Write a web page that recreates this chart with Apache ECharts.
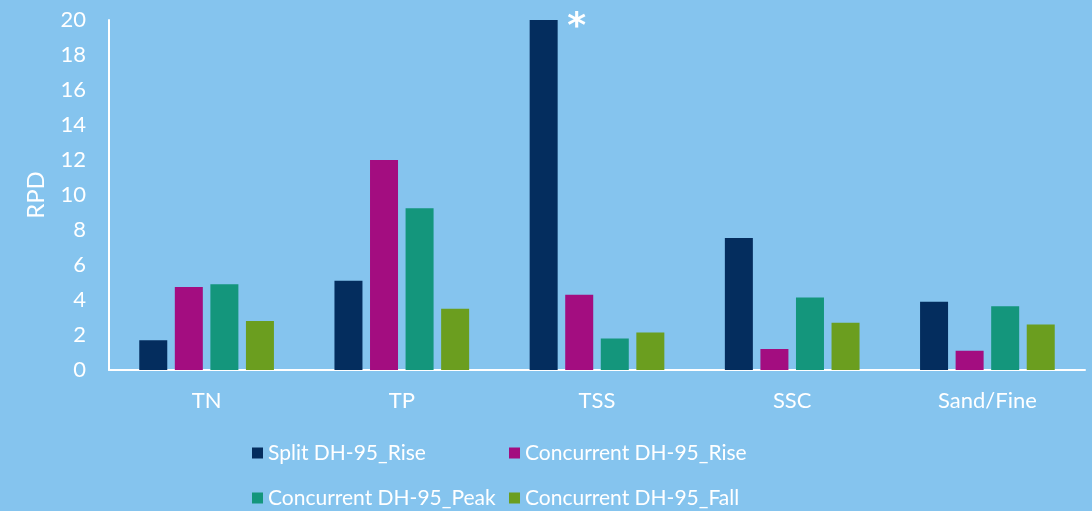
<!DOCTYPE html>
<html>
<head>
<meta charset="utf-8">
<script src="https://cdn.jsdelivr.net/npm/echarts@6/dist/echarts.min.js"></script>
<style>
  html, body { margin: 0; padding: 0; background: #85C4EE; }
  #chart { width: 1092px; height: 511px; }
</style>
</head>
<body>
<div id="chart"></div>
<script>
// Relative percent difference by constituent and sampling method
const categories = ['TN', 'TP', 'TSS', 'SSC', 'Sand/Fine'];
const yTicks = [0, 2, 4, 6, 8, 10, 12, 14, 16, 18, 20];

const splitRise      = [1.7, 5.1, 20.0, 7.55, 3.9];
const concurrentRise = [4.75, 12.0, 4.3, 1.2, 1.1];
const concurrentPeak = [4.9, 9.25, 1.8, 4.15, 3.65];
const concurrentFall = [2.8, 3.5, 2.15, 2.7, 2.6];

const seriesNames = [
  'Split DH-95_Rise',
  'Concurrent DH-95_Rise',
  'Concurrent DH-95_Peak',
  'Concurrent DH-95_Fall'
];
const colors = ['#042D5E', '#A30D80', '#14967C', '#6B9E1F'];

const FONT = 'Lato';
const FONT_SIZE = 22;

// TSS split sample is flagged with an asterisk
const flagged = splitRise.map(function (v, i) {
  if (categories[i] !== 'TSS') return v;
  return {
    value: v,
    label: {
      show: true,
      formatter: '*',
      position: [47, 8],
      align: 'center',
      verticalAlign: 'middle',
      color: '#FFFFFF',
      fontFamily: 'DejaVu Sans',
      fontWeight: 'bold',
      fontSize: 36
    }
  };
});

function bar(name, data, color) {
  return {
    name: name,
    type: 'bar',
    data: data,
    barWidth: 28,
    barGap: '27%',
    itemStyle: { color: color },
    emphasis: { disabled: true }
  };
}

// one legend per entry so the two columns line up
const legendSlots = [
  { left: 252, top: 441 },
  { left: 509, top: 441 },
  { left: 252, top: 486 },
  { left: 509, top: 486 }
];
const legends = seriesNames.map(function (name, i) {
  return {
    data: [name],
    left: legendSlots[i].left,
    top: legendSlots[i].top,
    padding: 0,
    itemWidth: 11,
    itemHeight: 11,
    itemGap: 0,
    icon: 'rect',
    selectedMode: false,
    textStyle: {
      color: '#FFFFFF',
      fontFamily: FONT,
      fontSize: 21,
      lineHeight: 24
    }
  };
});

const chart = echarts.init(document.getElementById('chart'), null, { renderer: 'canvas' });
chart.setOption({
  backgroundColor: '#85C4EE',
  animation: false,
  color: colors,
  grid: { left: 109, right: 7, top: 20, bottom: 141, containLabel: false },
  legend: legends,
  xAxis: {
    type: 'category',
    data: categories,
    axisLine: { lineStyle: { color: '#FFFFFF', width: 2 } },
    axisTick: { show: false },
    axisLabel: {
      color: '#FFFFFF', fontFamily: FONT, fontSize: FONT_SIZE, margin: 20
    }
  },
  yAxis: {
    type: 'value',
    min: yTicks[0],
    max: yTicks[yTicks.length - 1],
    interval: yTicks[1] - yTicks[0],
    name: 'RPD',
    nameLocation: 'middle',
    nameGap: 61,
    nameTextStyle: { color: '#FFFFFF', fontFamily: FONT, fontSize: 24 },
    axisLine: { show: true, lineStyle: { color: '#FFFFFF', width: 2 } },
    axisTick: { show: false },
    splitLine: { show: false },
    axisLabel: {
      color: '#FFFFFF', fontFamily: FONT, fontSize: FONT_SIZE, margin: 23
    }
  },
  series: [
    bar(seriesNames[0], flagged, colors[0]),
    bar(seriesNames[1], concurrentRise, colors[1]),
    bar(seriesNames[2], concurrentPeak, colors[2]),
    bar(seriesNames[3], concurrentFall, colors[3])
  ]
});
</script>
</body>
</html>
